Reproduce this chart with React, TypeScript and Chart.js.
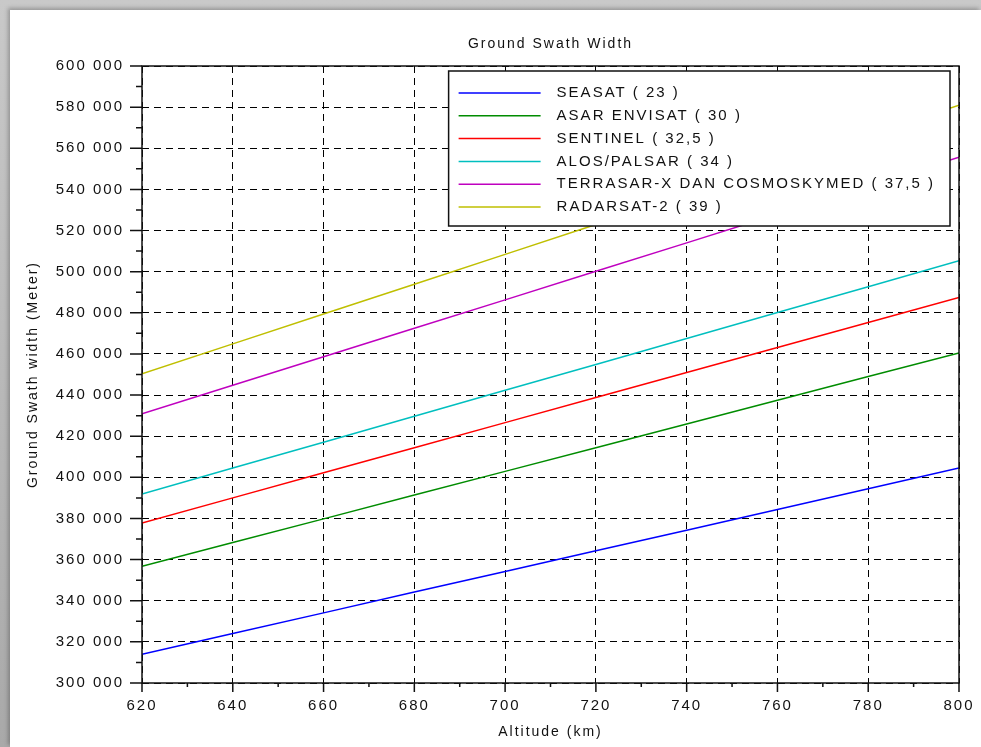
import React, { useEffect, useRef } from 'react';
import { Chart, registerables } from 'chart.js';

Chart.register(...registerables);

// ---- data ----
const altitudes = [620, 640, 660, 680, 700, 720, 740, 760, 780, 800];

const seriesNames = [
  'SEASAT ( 23 )',
  'ASAR ENVISAT ( 30 )',
  'SENTINEL ( 32,5 )',
  'ALOS/PALSAR ( 34 )',
  'TERRASAR-X DAN COSMOSKYMED ( 37,5 )',
  'RADARSAT-2 ( 39 )',
];

const seasat = [314000, 324100, 334100, 344200, 354200, 364300, 374300, 384400, 394400, 404500];
const asarEnvisat = [356800, 368300, 379800, 391400, 402900, 414400, 425900, 437500, 449000, 460500];
const sentinel = [377800, 390000, 402200, 414400, 426600, 438800, 451000, 463100, 475300, 487500];
const alosPalsar = [391900, 404500, 417100, 429700, 442300, 454900, 467500, 480100, 492700, 505300];
const terrasarCosmo = [430900, 444800, 458600, 472500, 486300, 500200, 514000, 527900, 541700, 555600];
const radarsat2 = [450400, 464900, 479400, 493900, 508400, 522900, 537400, 551900, 566400, 580900];

const seriesValues = [seasat, asarEnvisat, sentinel, alosPalsar, terrasarCosmo, radarsat2];
const seriesColors = ['#0000ff', '#008c00', '#ff0000', '#00bfbf', '#bf00bf', '#bfbf00'];

const xTickValues = [620, 640, 660, 680, 700, 720, 740, 760, 780, 800];
const xTickLabels = ['620', '640', '660', '680', '700', '720', '740', '760', '780', '800'];
const yTickValues = [300000, 320000, 340000, 360000, 380000, 400000, 420000, 440000, 460000, 480000, 500000, 520000, 540000, 560000, 580000, 600000];
const yTickLabels = ['300 000', '320 000', '340 000', '360 000', '380 000', '400 000', '420 000', '440 000', '460 000', '480 000', '500 000', '520 000', '540 000', '560 000', '580 000', '600 000'];

const chartTitle = 'Ground Swath Width';
const xTitle = 'Altitude (km)';
const yTitle = 'Ground Swath width (Meter)';

const FONT = '"Liberation Sans", Arial, Helvetica, sans-serif';
const INK = '#111111';
const SPACING = '2px';

const frameLegendPlugin = {
  id: 'frameLegend',
  beforeDraw(chart: any) {
    chart.ctx.letterSpacing = SPACING;
  },
  afterDraw(chart: any) {
    const { ctx, chartArea: a, scales } = chart;
    const xs = scales.x;
    const ys = scales.y;
    ctx.save();
    ctx.setLineDash([]);
    ctx.strokeStyle = INK;
    ctx.lineWidth = 1.5;

    // ticks (major + minor), outward
    ctx.beginPath();
    yTickValues.forEach((v, i) => {
      const p = ys.getPixelForValue(v);
      ctx.moveTo(a.left - 12, p);
      ctx.lineTo(a.left, p);
      if (i < yTickValues.length - 1) {
        const pm = ys.getPixelForValue((v + yTickValues[i + 1]) / 2);
        ctx.moveTo(a.left - 6, pm);
        ctx.lineTo(a.left, pm);
      }
    });
    xTickValues.forEach((v, i) => {
      const p = xs.getPixelForValue(v);
      ctx.moveTo(p, a.bottom);
      ctx.lineTo(p, a.bottom + 9);
      if (i < xTickValues.length - 1) {
        const pm = xs.getPixelForValue((v + xTickValues[i + 1]) / 2);
        ctx.moveTo(pm, a.bottom);
        ctx.lineTo(pm, a.bottom + 4);
      }
    });
    ctx.stroke();

    // frame
    ctx.strokeRect(a.left, a.top, a.right - a.left, a.bottom - a.top);

    // legend box
    ctx.font = `15px ${FONT}`;
    ctx.letterSpacing = SPACING;
    const labels: string[] = chart.data.datasets.map((d: any) => d.label);
    const maxW = Math.max(...labels.map((l) => ctx.measureText(l).width));
    const right = a.right - 9;
    const top = a.top + 5;
    const left = right - (108 + maxW + 15);
    const height = 155;
    ctx.fillStyle = '#ffffff';
    ctx.fillRect(left, top, right - left, height);
    ctx.strokeStyle = INK;
    ctx.lineWidth = 1.5;
    ctx.strokeRect(left, top, right - left, height);

    chart.data.datasets.forEach((d: any, i: number) => {
      const yy = top + 22 + i * 22.8;
      ctx.strokeStyle = d.borderColor;
      ctx.lineWidth = 1.5;
      ctx.beginPath();
      ctx.moveTo(left + 10, yy);
      ctx.lineTo(left + 92, yy);
      ctx.stroke();
      ctx.fillStyle = INK;
      ctx.textAlign = 'left';
      ctx.textBaseline = 'middle';
      ctx.fillText(d.label, left + 108, yy);
    });
    ctx.restore();
  },
};

export default function App() {
  const canvasRef = useRef<HTMLCanvasElement | null>(null);

  useEffect(() => {
    const canvas = canvasRef.current;
    if (!canvas) return;
    const chart = new Chart(canvas, {
      type: 'line',
      data: {
        datasets: seriesNames.map((name, s) => ({
          label: name,
          data: altitudes.map((alt, i) => ({ x: alt, y: seriesValues[s][i] })),
          borderColor: seriesColors[s],
          backgroundColor: seriesColors[s],
          borderWidth: 1.5,
          pointRadius: 0,
          fill: false,
          tension: 0,
        })),
      },
      options: {
        responsive: false,
        animation: false,
        devicePixelRatio: 1,
        layout: { padding: { left: 0, right: 22, top: 0, bottom: 0 } },
        plugins: {
          legend: { display: false },
          tooltip: { enabled: false },
          title: {
            display: true,
            text: chartTitle,
            fullSize: false,
            color: INK,
            font: { family: FONT, size: 14, weight: 'normal' },
            padding: { top: 36, bottom: 13.2 },
          },
        },
        scales: {
          x: {
            type: 'linear',
            min: 620,
            max: 800,
            afterBuildTicks: (scale: any) => {
              scale.ticks = xTickValues.map((v) => ({ value: v }));
            },
            afterFit: (scale: any) => {
              scale.height = 64;
              scale.paddingLeft = 0;
              scale.paddingRight = 0;
            },
            ticks: {
              autoSkip: false,
              maxRotation: 0,
              padding: 14,
              color: INK,
              font: { family: FONT, size: 15 },
              callback: (_v: any, i: number) => xTickLabels[i],
            },
            grid: { color: '#000000', lineWidth: 1, drawTicks: false },
            border: { display: false, dash: [7, 5] },
            title: {
              display: true,
              text: xTitle,
              color: INK,
              font: { family: FONT, size: 14 },
              padding: { top: 0, bottom: 6.5 },
            },
          },
          y: {
            type: 'linear',
            min: 300000,
            max: 600000,
            afterBuildTicks: (scale: any) => {
              scale.ticks = yTickValues.map((v) => ({ value: v }));
            },
            afterFit: (scale: any) => {
              scale.width = 142;
              scale.paddingTop = 0;
              scale.paddingBottom = 0;
            },
            ticks: {
              autoSkip: false,
              padding: 18,
              color: INK,
              font: { family: FONT, size: 15 },
              callback: (_v: any, i: number) => yTickLabels[i],
            },
            grid: { color: '#000000', lineWidth: 1, drawTicks: false },
            border: { display: false, dash: [7, 5] },
            title: {
              display: true,
              text: yTitle,
              color: INK,
              font: { family: FONT, size: 14 },
              padding: { top: 24.5, bottom: 0 },
            },
          },
        },
      } as any,
      plugins: [frameLegendPlugin],
    });
    return () => chart.destroy();
  }, []);

  return (
    <div
      style={{
        position: 'fixed',
        left: 0,
        top: 0,
        width: 981,
        height: 747,
        overflow: 'hidden',
        background: 'linear-gradient(180deg, #c9c9c9 0%, #a9a9a9 100%)',
      }}
    >
      <div
        style={{
          position: 'absolute',
          left: 10,
          top: 10,
          right: 0,
          bottom: 0,
          background: '#ffffff',
          boxShadow: '-2px -2px 4px rgba(0,0,0,0.25)',
        }}
      />
      <canvas
        ref={canvasRef}
        width={981}
        height={747}
        style={{ position: 'absolute', left: 0, top: 0, width: 981, height: 747 }}
      />
    </div>
  );
}
